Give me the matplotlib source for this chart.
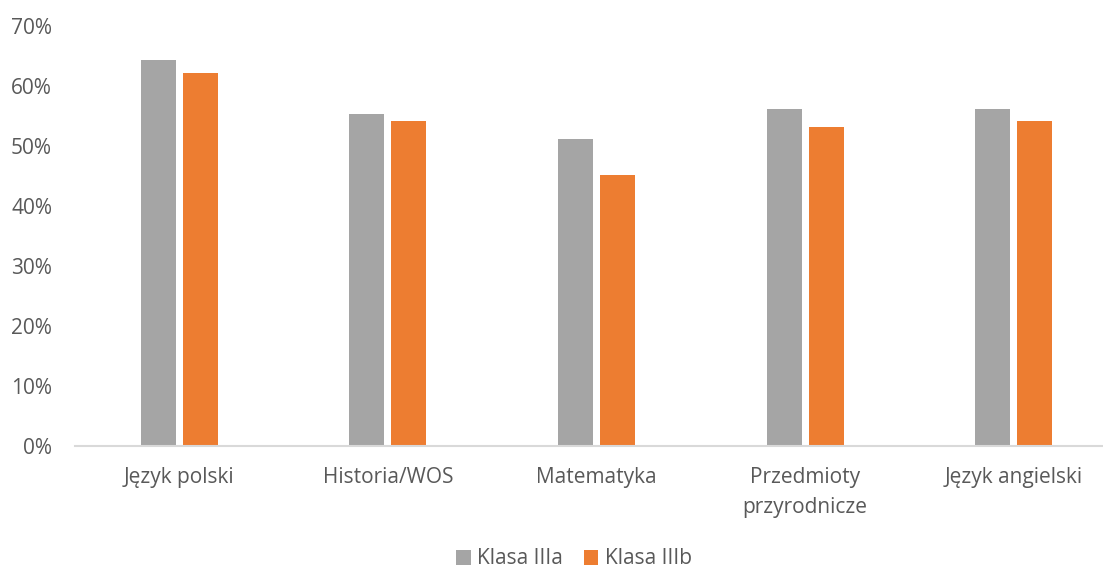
import matplotlib
matplotlib.use("Agg")
import matplotlib.pyplot as plt
import numpy as np
from matplotlib.ticker import PercentFormatter

plt.rcParams['font.family'] = ['Open Sans', 'DejaVu Sans']

categories = ["Język polski", "Historia/WOS", "Matematyka",
              "Przedmioty\nprzyrodnicze", "Język angielski"]
klasa_a = [64.3, 55.3, 51.2, 56.2, 56.2]
klasa_b = [62.1, 54.1, 45.1, 53.1, 54.1]
series_names = ["Klasa IIIa", "Klasa IIIb"]

grey = "#A5A5A5"
orange = "#ED7D31"
text_col = "#595959"

fig = plt.figure(figsize=(11.03, 5.68), dpi=100)
W, H = 1103, 568
ax = fig.add_axes([75 / W, 1 - 446 / H, 1043 / W, 420 / H])

x = np.arange(len(categories))
w = 0.168
gap = 0.034
ax.bar(x - (w + gap) / 2, klasa_a, w, color=grey, label=series_names[0])
ax.bar(x + (w + gap) / 2, klasa_b, w, color=orange, label=series_names[1])

ax.set_xlim(-0.5, len(categories) - 0.5)
ax.set_ylim(0, 70)
ax.set_yticks(range(0, 71, 10))
ax.yaxis.set_major_formatter(PercentFormatter(decimals=0))
ax.set_xticks(x)
ax.set_xticklabels(categories, linespacing=1.6)

for s in ["top", "right", "left"]:
    ax.spines[s].set_visible(False)
ax.spines["bottom"].set_color("#D9D9D9")
ax.spines["bottom"].set_linewidth(1.5)
ax.tick_params(axis="both", length=0, labelsize=15, colors=text_col)
ax.tick_params(axis="x", pad=15)
ax.tick_params(axis="y", pad=16.5)

fig.legend(loc="center", bbox_to_anchor=(574 / W, 1 - 559 / H), ncol=2,
           frameon=False, fontsize=15, labelcolor=text_col,
           handlelength=0.7, handleheight=0.7, handletextpad=0.3,
           columnspacing=1.0)

fig.savefig("out.png", dpi=100)
